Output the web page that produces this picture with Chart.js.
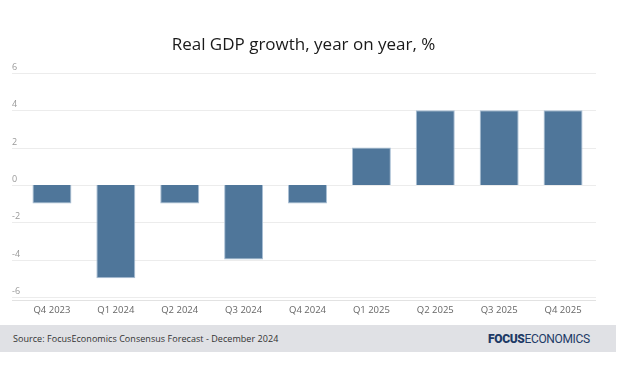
<!DOCTYPE html>
<html>
<head>
<meta charset="utf-8">
<script src="https://cdn.jsdelivr.net/npm/chart.js@4.4.1/dist/chart.umd.min.js"></script>
<style>
  html, body { margin: 0; padding: 0; background: #fff; }
  #wrap { position: relative; width: 622px; height: 366px; overflow: hidden; }
  #title { position: absolute; left: 12px; width: 583px; top: 34px; text-align: center; font: 500 17px/20px "Open Sans", sans-serif; color: #1a1a1a; white-space: nowrap; }
  #chartBox { position: absolute; left: 0; top: 0; width: 622px; height: 325px; }
  #footer { position: absolute; left: 0; top: 325px; width: 616px; height: 27px; background: #e0e1e5; }
  #source { position: absolute; left: 13px; top: 7px; font: 9px "Open Sans", sans-serif; letter-spacing: 0.05px; color: #333; white-space: nowrap; }
  #logo { position: absolute; left: 488px; top: 7px; font: 12px Roboto, sans-serif; letter-spacing: -0.35px; color: #1d3a66; white-space: nowrap; }
  #logo b { font-weight: 900; }
</style>
</head>
<body>
<div id="wrap">
  <div id="chartBox"><canvas id="myChart"></canvas></div>
  <div id="title">Real GDP growth, year on year, %</div>
  <div id="footer">
    <div id="source">Source: FocusEconomics Consensus Forecast - December 2024</div>
    <div id="logo"><b>FOCUS</b>ECONOMICS</div>
  </div>
</div>
<script>
const labels = ['Q4 2023', 'Q1 2024', 'Q2 2024', 'Q3 2024', 'Q4 2024', 'Q1 2025', 'Q2 2025', 'Q3 2025', 'Q4 2025'];
const gdpGrowth = [-1, -5, -1, -4, -1, 2, 4, 4, 4];
const yTicks = [-6, -4, -2, 0, 2, 4, 6];

// grid lines and y labels start left of the bars' area, so draw them here
const gridPlugin = {
  id: 'gridLines',
  beforeDatasetsDraw(chart) {
    const ctx = chart.ctx;
    const area = chart.chartArea;
    const y = chart.scales.y;
    ctx.save();
    ctx.lineWidth = 1;
    ctx.strokeStyle = '#ececec';
    ctx.fillStyle = '#999';
    ctx.font = '9px "Open Sans"';
    ctx.textBaseline = 'middle';
    ctx.textAlign = 'left';
    y.ticks.forEach(function (t) {
      const py = Math.round(y.getPixelForValue(t.value)) + 0.5;
      ctx.beginPath();
      ctx.moveTo(12, py);
      ctx.lineTo(area.right + 1, py);
      ctx.stroke();
      ctx.fillText(String(t.value), 12, py - 6);
    });
    ctx.strokeStyle = '#e2e2e2';
    const by = Math.round(area.bottom) + 0.5;
    ctx.beginPath();
    ctx.moveTo(12, by);
    ctx.lineTo(area.right + 1, by);
    ctx.stroke();
    ctx.restore();
  }
};

function drawChart() {
  const data = {
    labels: labels,
    datasets: [{
      label: 'Real GDP growth',
      backgroundColor: '#4f769a',
      borderColor: '#a9bfd4',
      borderWidth: 1,
      data: gdpGrowth,
      barPercentage: 0.61,
      categoryPercentage: 1
    }]
  };

  const config = {
    type: 'bar',
    data: data,
    plugins: [gridPlugin],
    options: {
      responsive: true,
      maintainAspectRatio: false,
      animation: false,
      layout: { padding: { left: 20, right: 27, top: 73, bottom: 4 } },
      plugins: {
        legend: { display: false },
        tooltip: { enabled: false },
        title: { display: false }
      },
      scales: {
        x: {
          grid: { display: false, drawTicks: false },
          border: { display: false },
          ticks: { color: '#666', font: { family: 'Open Sans', size: 9.5 }, padding: 5, maxRotation: 0 }
        },
        y: {
          min: -6.15,
          max: 6,
          afterBuildTicks: function (scale) {
            scale.ticks = yTicks.map(function (v) { return { value: v }; });
          },
          grid: { display: false, drawTicks: false },
          border: { display: false },
          ticks: { display: false }
        }
      }
    }
  };

  const myChart = new Chart(document.getElementById('myChart'), config);
}

drawChart();
</script>
</body>
</html>
